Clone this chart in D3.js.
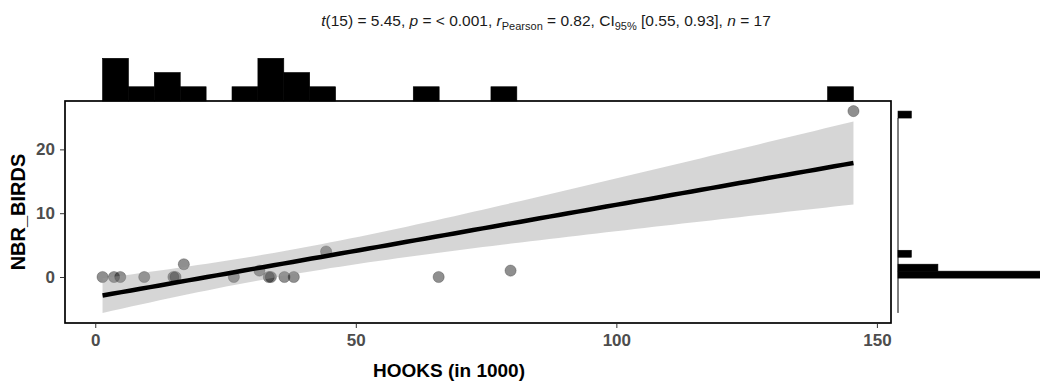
<!DOCTYPE html>
<html lang="en">
<head>
<meta charset="UTF-8">
<title>NBR_BIRDS vs HOOKS</title>
<script src="https://cdn.jsdelivr.net/npm/d3@7"></script>
<style>
    body { margin: 0; background: #fff; }
    svg text { font-family: "Liberation Sans", Arial, sans-serif; }
</style>
</head>
<body>
<div id="chart"></div>
<script>
    // data
    var hooks = [1.4, 3.6, 4.8, 9.4, 15.0, 15.4, 17.0, 26.6, 31.5, 33.3, 33.7, 36.3, 38.1, 44.3, 65.9, 79.7, 145.5];
    var birds = [0, 0, 0, 0, 0, 0, 2, 0, 1, 0, 0, 0, 0, 4, 0, 1, 26];
    var xTicks = [0, 50, 100, 150];
    var yTicks = [0, 10, 20];
    var nBins = 29;

    var svgw = 1040, svgh = 386;
    var L = 65, R = 891, T = 101, B = 323;

    // linear fit with 95% band
    var n = hooks.length;
    var mx = d3.mean(hooks), my = d3.mean(birds);
    var sxx = d3.sum(hooks, function (d) { return (d - mx) * (d - mx); });
    var sxy = d3.sum(hooks, function (d, i) { return (d - mx) * (birds[i] - my); });
    var slope = sxy / sxx, icpt = my - slope * mx;
    var rss = d3.sum(hooks, function (d, i) { var e = birds[i] - icpt - slope * d; return e * e; });
    var s = Math.sqrt(rss / (n - 2));
    var tcrit = 2.131; // t(0.975, 15)
    var xMin = d3.min(hooks), xMax = d3.max(hooks);
    var fit = d3.range(80).map(function (i) {
        var x = xMin + i * (xMax - xMin) / 79;
        var yh = icpt + slope * x;
        var se = s * Math.sqrt(1 / n + (x - mx) * (x - mx) / sxx);
        return {x: x, y: yh, lo: yh - tcrit * se, hi: yh + tcrit * se};
    });

    var yLo = Math.min(d3.min(birds), d3.min(fit, function (d) { return d.lo; }));
    var yHi = Math.max(d3.max(birds), d3.max(fit, function (d) { return d.hi; }));
    var xPad = (xMax - xMin) * 0.05, yPad = (yHi - yLo) * 0.05;

    var x_scale = d3.scaleLinear().domain([xMin - xPad, xMax + xPad]).range([L, R]);
    var y_scale = d3.scaleLinear().domain([yLo - yPad, yHi + yPad]).range([B, T]);

    var svg = d3.select('#chart').append('svg')
        .attr('width', svgw)
        .attr('height', svgh);

    // points
    svg.append('g').selectAll('circle')
        .data(hooks)
        .enter()
        .append('circle')
        .attr('cx', function (d) { return x_scale(d); })
        .attr('cy', function (d, i) { return y_scale(birds[i]); })
        .attr('r', 5.6)
        .attr('fill', '#000')
        .attr('fill-opacity', 0.44)
        .attr('stroke', '#000')
        .attr('stroke-opacity', 0.3)
        .attr('stroke-width', 0.8);

    // band + line
    svg.append('path')
        .datum(fit)
        .attr('d', d3.area()
            .x(function (d) { return x_scale(d.x); })
            .y0(function (d) { return y_scale(d.lo); })
            .y1(function (d) { return y_scale(d.hi); }))
        .attr('fill', '#999')
        .attr('fill-opacity', 0.4);

    svg.append('path')
        .datum(fit)
        .attr('d', d3.line()
            .x(function (d) { return x_scale(d.x); })
            .y(function (d) { return y_scale(d.y); }))
        .attr('fill', 'none')
        .attr('stroke', '#000')
        .attr('stroke-width', 4.5);

    // panel border
    svg.append('rect')
        .attr('x', L).attr('y', T)
        .attr('width', R - L).attr('height', B - T)
        .attr('fill', 'none')
        .attr('stroke', '#000')
        .attr('stroke-width', 1.7);

    // axes
    var x_axis = d3.axisBottom(x_scale).tickValues(xTicks).tickSize(4).tickPadding(6);
    var gx = svg.append('g').attr('transform', 'translate(0,' + (B + 1) + ')').call(x_axis);
    var y_axis = d3.axisLeft(y_scale).tickValues(yTicks).tickSize(4).tickPadding(5);
    var gy = svg.append('g').attr('transform', 'translate(' + (L - 1) + ',0)').call(y_axis);
    [gx, gy].forEach(function (g) {
        g.select('.domain').remove();
        g.selectAll('.tick line').attr('stroke', '#333');
        g.selectAll('.tick text')
            .attr('fill', '#4d4d4d')
            .attr('font-size', 17)
            .attr('font-weight', 'bold')
            .style('font-family', '"Liberation Sans", Arial, sans-serif');
    });

    svg.append('text')
        .attr('x', 449).attr('y', 377)
        .attr('text-anchor', 'middle')
        .attr('font-size', 19).attr('font-weight', 'bold')
        .text('HOOKS (in 1000)');

    svg.append('text')
        .attr('transform', 'translate(25,' + ((T + B) / 2) + ') rotate(-90)')
        .attr('text-anchor', 'middle')
        .attr('font-size', 20).attr('font-weight', 'bold')
        .text('NBR_BIRDS');

    // marginal histograms: 29 equal bins over each layer range
    function binsOf(vals, lo, hi) {
        var w = (hi - lo) / nBins;
        return d3.bin()
            .domain([lo, hi])
            .thresholds(d3.range(1, nBins).map(function (k) { return lo + k * w; }))(vals);
    }

    var topBins = binsOf(hooks, xMin, xMax);
    var top_scale = d3.scaleLinear()
        .domain([0, d3.max(topBins, function (b) { return b.length; })])
        .range([T, 58.3]);
    svg.append('g').selectAll('rect')
        .data(topBins)
        .enter()
        .append('rect')
        .attr('x', function (b) { return x_scale(b.x0); })
        .attr('width', function (b) { return x_scale(b.x1) - x_scale(b.x0); })
        .attr('y', function (b) { return top_scale(b.length); })
        .attr('height', function (b) { return top_scale(0) - top_scale(b.length); })
        .attr('fill', '#000')
        .attr('stroke', '#000')
        .attr('stroke-width', 0.6);

    var sideBins = binsOf(birds, yLo, yHi);
    var side_scale = d3.scaleLinear().domain([0, 1]).range([898, 911.3]);
    // outline of the empty bins along the baseline
    svg.append('line')
        .attr('x1', side_scale(0)).attr('x2', side_scale(0))
        .attr('y1', y_scale(sideBins[0].x0))
        .attr('y2', y_scale(sideBins[sideBins.length - 1].x0))
        .attr('stroke', '#000')
        .attr('stroke-width', 1);
    svg.append('g').selectAll('rect')
        .data(sideBins.filter(function (b) { return b.length > 0; }))
        .enter()
        .append('rect')
        .attr('x', side_scale(0))
        .attr('width', function (b) { return side_scale(b.length) - side_scale(0); })
        .attr('y', function (b) { return y_scale(b.x1); })
        .attr('height', function (b) { return y_scale(b.x0) - y_scale(b.x1); })
        .attr('fill', '#000')
        .attr('stroke', '#000')
        .attr('stroke-width', 0.6);

    // subtitle with stats
    var title = svg.append('text')
        .attr('x', 546).attr('y', 26)
        .attr('text-anchor', 'middle')
        .attr('font-size', 15.5)
        .attr('fill', '#1a1a1a');
    var parts = [
        ['t', 'i'], ['(15) = 5.45, ', ''], ['p', 'i'], [' = < 0.001, ', ''], ['r', 'i'],
        ['Pearson', 's'], [' = 0.82, CI', ''], ['95%', 's'], [' [0.55, 0.93], ', ''], ['n', 'i'], [' = 17', '']
    ];
    var prevSub = false;
    parts.forEach(function (p) {
        var t = title.append('tspan').text(p[0]);
        if (p[1] === 'i') t.attr('font-style', 'italic');
        if (p[1] === 's') { t.attr('font-size', 11).attr('dy', 4); prevSub = true; }
        else if (prevSub) { t.attr('dy', -4); prevSub = false; }
    });
</script>
</body>
</html>
